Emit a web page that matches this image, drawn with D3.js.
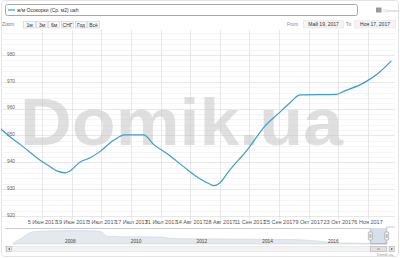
<!DOCTYPE html>
<html><head><meta charset="utf-8">
<script src="https://cdn.jsdelivr.net/npm/d3@7/dist/d3.min.js"></script>
<style>
html,body{margin:0;padding:0;background:#fff;}
svg{display:block;font-family:"Liberation Sans",Arial,sans-serif;}
</style></head>
<body>
<svg id="chart" width="400" height="258"></svg>
<script>
// ---- data ----
const lineDates = ["2017-05-16","2017-05-21","2017-05-26","2017-06-04","2017-06-09","2017-06-12","2017-06-16","2017-06-18","2017-06-23","2017-06-28","2017-07-02","2017-07-09","2017-07-14","2017-07-23","2017-07-28","2017-08-04","2017-08-11","2017-08-18","2017-08-23","2017-08-25","2017-08-28","2017-09-01","2017-09-11","2017-09-18","2017-09-25","2017-09-30","2017-10-05","2017-10-22","2017-10-26","2017-11-04","2017-11-11","2017-11-17"];
const lineValues = [952.8,949.4,946.5,940.9,938.3,936.8,936.1,936.7,940.1,941.8,943.8,948.3,950.2,950.2,946.5,942.7,938.3,934.2,932.0,931.3,932.3,936.4,945.7,953.2,958.4,962.1,965.1,965.3,966.6,969.6,973.3,977.8];

const xTickDates = ["2017-06-05","2017-06-19","2017-07-03","2017-07-17","2017-07-31","2017-08-14","2017-08-28","2017-09-11","2017-09-25","2017-10-09","2017-10-23","2017-11-06"];
const xTickLabels = ["5 Июн 2017","19 Июн 2017","3 Июл 2017","17 Июл 2017","31 Июл 2017","14 Авг 2017","28 Авг 2017","11 Сен 2017","25 Сен 2017","9 Окт 2017","23 Окт 2017","6 Ноя 2017"];
const yTickValues = [920,930,940,950,960,970,980];
const yMinorValues = d3.range(920, 990, 2);

const navDates = ["2006-07-05","2006-10-15","2007-02-10","2007-07-01","2008-01-01","2008-09-01","2009-03-01","2009-05-15","2010-01-01","2011-01-01","2011-05-01","2012-01-01","2013-01-01","2014-01-01","2015-01-01","2015-10-01","2016-03-01","2016-09-01","2017-03-01","2017-06-15","2017-08-25","2017-11-17"];
const navValues = [930,1300,1680,1740,1750,1760,1720,1400,1360,1350,1250,1230,1220,1210,1190,1100,1000,960,950,937,931,978];
const navYears = ["2008","2010","2012","2014","2016"];

const seriesName = "ж/м Осокорки (Ср. м2) uah";
const hiddenSeriesName = "Оболонь";
const zoomButtons = ["1м","3м","6м","СНГ","Год","Всё"];
const fromLabel = "Май 19, 2017", toLabel = "Ноя 17, 2017";

// ---- drawing ----
const parse = d3.timeParse("%Y-%m-%d");
const svg = d3.select("#chart");
const txt = "#666";

// outer border
svg.append("rect").attr("x",1.5).attr("y",0.5).attr("width",397).attr("height",256).attr("rx",3)
  .attr("fill","#fff").attr("stroke","#e3e3e3");

// legend
svg.append("rect").attr("x",5.5).attr("y",4.5).attr("width",352).attr("height",11).attr("rx",2)
  .attr("fill","#fff").attr("stroke","#a8a8a8");
svg.append("line").attr("x1",8).attr("x2",15).attr("y1",10).attr("y2",10).attr("stroke","#3c9dc7").attr("stroke-width",1.2);
svg.append("text").attr("x",17).attr("y",11.8).attr("font-size",5).attr("fill","#333").text(seriesName);
svg.append("rect").attr("x",376).attr("y",7.5).attr("width",5.5).attr("height",5).attr("fill","#999");
svg.append("text").attr("x",383).attr("y",11.6).attr("font-size",3.9).attr("fill","#bbb").text(hiddenSeriesName);

// zoom buttons
svg.append("text").attr("x",2).attr("y",25.8).attr("font-size",4.8).attr("fill","#777").text("Zoom");
const bx = [23,36,48,61,75,87], bw = [13,12,12,13,12,13];
zoomButtons.forEach((b,i)=>{
  svg.append("rect").attr("x",bx[i]+0.5).attr("y",21.5).attr("width",bw[i]-1).attr("height",6.5)
    .attr("fill","#f7f7f7").attr("stroke","#cfcfcf").attr("stroke-width",0.6);
  svg.append("text").attr("x",bx[i]+bw[i]/2).attr("y",26.5).attr("text-anchor","middle")
    .attr("font-size",5).attr("fill","#333").text(b);
});
// from / to
svg.append("text").attr("x",287).attr("y",26.2).attr("font-size",4.8).attr("fill","#888").text("From");
svg.append("rect").attr("x",303.5).attr("y",20.5).attr("width",40).attr("height",7.5).attr("fill","#f4f4f4").attr("stroke","#e0e0e0").attr("stroke-width",0.5);
svg.append("text").attr("x",323.5).attr("y",26.3).attr("text-anchor","middle").attr("font-size",5).attr("fill","#333").text(fromLabel);
svg.append("text").attr("x",346).attr("y",26.2).attr("font-size",4.8).attr("fill","#888").text("To");
svg.append("rect").attr("x",354.5).attr("y",20.5).attr("width",41).attr("height",7.5).attr("fill","#f4f4f4").attr("stroke","#e0e0e0").attr("stroke-width",0.5);
svg.append("text").attr("x",375).attr("y",26.3).attr("text-anchor","middle").attr("font-size",5).attr("fill","#333").text(toLabel);

// main plot scales
const x = d3.scaleTime().domain([parse("2017-05-19"), parse("2017-11-17")]).range([6, 391.3]);
const y = d3.scaleLinear().domain([920, 989.3]).range([216, 30]);
const plotL = 1, plotR = 395, plotT = 30, plotB = 216.5;

const grid = svg.append("g");
grid.selectAll(".mn").data(yMinorValues.filter(v=>v%10!==0)).join("line")
  .attr("x1",plotL).attr("x2",plotR).attr("y1",d=>Math.round(y(d))+0.5).attr("y2",d=>Math.round(y(d))+0.5)
  .attr("stroke","#eeeeee").attr("stroke-width",0.6);
grid.selectAll(".mj").data(yTickValues).join("line")
  .attr("x1",plotL).attr("x2",plotR).attr("y1",d=>Math.round(y(d))+0.5).attr("y2",d=>Math.round(y(d))+0.5)
  .attr("stroke","#dedede").attr("stroke-width",0.7);
grid.selectAll(".vx").data(xTickDates.map(parse)).join("line")
  .attr("x1",d=>Math.round(x(d))+0.5).attr("x2",d=>Math.round(x(d))+0.5).attr("y1",plotT).attr("y2",plotB+3)
  .attr("stroke","#dedede").attr("stroke-width",0.7);

// watermark
svg.append("text").attr("x",20).attr("y",145).attr("font-size",67).attr("font-weight","bold")
  .attr("font-family","'Liberation Sans',Arial,sans-serif")
  .attr("textLength",323).attr("lengthAdjust","spacingAndGlyphs")
  .attr("fill","#c4c4c4").attr("fill-opacity",0.55).text("Domik.ua");

// y labels
svg.append("g").selectAll("text").data(yTickValues).join("text")
  .attr("x",7).attr("y",d=>y(d)+0.8).attr("font-size",4.8).attr("fill",txt).text(d=>d);

// x axis
const xAxis = d3.axisBottom(x).tickValues(xTickDates.map(parse))
  .tickFormat((d,i)=>xTickLabels[i]).tickSize(0).tickPadding(4);
const gx = svg.append("g").attr("transform",`translate(0,${plotB})`).call(xAxis);
gx.select(".domain").remove();
gx.selectAll("text").attr("font-size",5.5).attr("fill","#555").attr("font-family","'Liberation Sans',Arial,sans-serif");

// line
svg.append("clipPath").attr("id","clip").append("rect").attr("x",plotL).attr("y",plotT).attr("width",plotR-plotL).attr("height",plotB-plotT);
const pts = lineDates.map((d,i)=>[parse(d), lineValues[i]]);
svg.append("path").attr("clip-path","url(#clip)")
  .attr("d", d3.line().x(d=>x(d[0])).y(d=>y(d[1])).curve(d3.curveMonotoneX)(pts))
  .attr("fill","none").attr("stroke","#3c9dc7").attr("stroke-width",1.2);

// navigator
const nx = d3.scaleTime().domain([parse("2008-01-01"), parse("2016-01-01")]).range([62, 325]);
const ny = d3.scaleLinear().domain([900, 1800]).range([244, 230]);
const navTop = 228, navBot = 244;
const npts = navDates.map((d,i)=>[parse(d), navValues[i]]);
svg.append("path").attr("d", d3.area().x(d=>nx(d[0])).y0(navBot).y1(d=>ny(d[1])).curve(d3.curveMonotoneX)(npts))
  .attr("fill","#e4e9f0").attr("stroke","#c9d3df").attr("stroke-width",0.6);
const selL = nx(parse("2017-05-19")), selR = nx(parse("2017-11-17"));
svg.append("rect").attr("x",selL).attr("y",navTop).attr("width",selR-selL).attr("height",navBot-navTop)
  .attr("fill","#4572a7").attr("fill-opacity",0.22);
svg.append("g").selectAll("text").data(navYears).join("text")
  .attr("x",d=>nx(parse(d+"-01-01"))+3).attr("y",242.5).attr("font-size",4.8).attr("fill","#444").text(d=>d);
// outline
svg.append("path").attr("d",`M5,${navTop+0.5}H${selL}V${navBot}H${selR}V${navTop-1}H395`)
  .attr("fill","none").attr("stroke","#b2b1b6").attr("stroke-width",0.7);
[selL, selR].forEach(h=>{
  svg.append("rect").attr("x",h-2).attr("y",232).attr("width",4).attr("height",8).attr("rx",1)
    .attr("fill","#f2f2f2").attr("stroke","#999").attr("stroke-width",0.6);
  svg.append("line").attr("x1",h-0.5).attr("x2",h-0.5).attr("y1",234).attr("y2",238).attr("stroke","#666").attr("stroke-width",0.4);
  svg.append("line").attr("x1",h+0.5).attr("x2",h+0.5).attr("y1",234).attr("y2",238).attr("stroke","#666").attr("stroke-width",0.4);
});
// scrollbar
svg.append("rect").attr("x",5.5).attr("y",246.5).attr("width",389).attr("height",5).attr("fill","#f2f2f2").attr("stroke","#ddd").attr("stroke-width",0.5);
svg.append("rect").attr("x",6.5).attr("y",246.5).attr("width",5).attr("height",5).attr("fill","#e6e6e6").attr("stroke","#aaa").attr("stroke-width",0.5);
svg.append("path").attr("d","M10,247.8L8,249L10,250.2Z").attr("fill","#666");
svg.append("rect").attr("x",selL).attr("y",246.5).attr("width",selR-selL).attr("height",5).attr("fill","#e0e0e0").attr("stroke","#aaa").attr("stroke-width",0.5);
svg.append("path").attr("d",`M${(selL+selR)/2-1},248V250M${(selL+selR)/2},248V250M${(selL+selR)/2+1},248V250`).attr("stroke","#666").attr("stroke-width",0.3);
svg.append("rect").attr("x",389.5).attr("y",246.5).attr("width",5).attr("height",5).attr("fill","#e6e6e6").attr("stroke","#aaa").attr("stroke-width",0.5);
svg.append("path").attr("d","M391,247.8L393,249L391,250.2Z").attr("fill","#666");
// credit
svg.append("text").attr("x",393).attr("y",256).attr("text-anchor","end").attr("font-size",3.8).attr("fill","#999").text("Domik.ua");
</script>
</body></html>
